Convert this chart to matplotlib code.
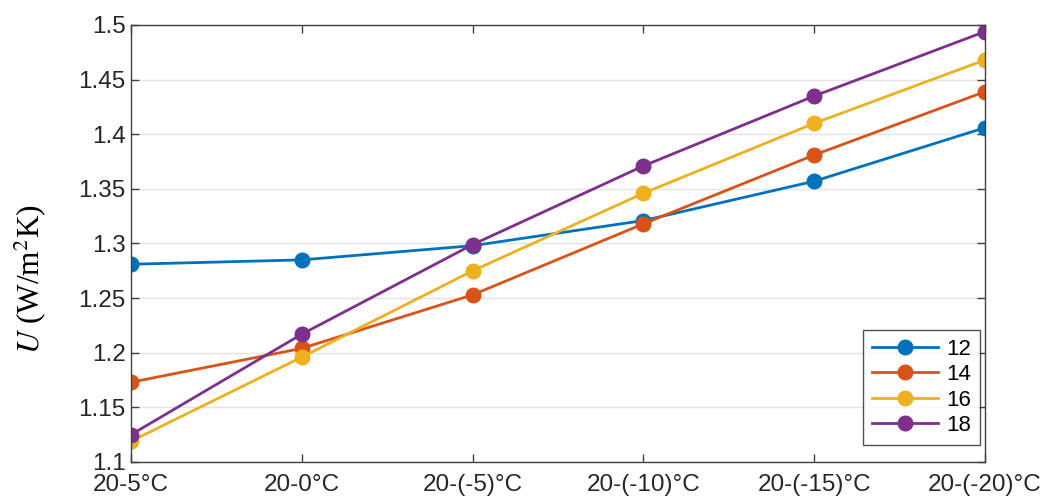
import numpy as np
import matplotlib.pyplot as plt

# temperature differences (inside-outside)
cases = ['20-5°C', '20-0°C', '20-(-5)°C', '20-(-10)°C', '20-(-15)°C', '20-(-20)°C']
labels = ['12', '14', '16', '18']

u12 = [1.281, 1.285, 1.298, 1.321, 1.357, 1.406]
u14 = [1.173, 1.204, 1.253, 1.318, 1.381, 1.439]
u16 = [1.119, 1.196, 1.275, 1.346, 1.410, 1.468]
u18 = [1.125, 1.217, 1.299, 1.371, 1.435, 1.494]

colors = ['#0072BD', '#D95319', '#EDB120', '#7E2F8E']

plt.rcParams['font.family'] = ['Liberation Sans', 'DejaVu Sans']
plt.rcParams['mathtext.fontset'] = 'stix'

fig = plt.figure(figsize=(10.43, 4.98), dpi=100)
ax = fig.add_axes([0.1256, 0.0723, 0.8188, 0.8775])

x = np.arange(len(cases))
for ys, lab, c in zip([u12, u14, u16, u18], labels, colors):
    ax.plot(x, ys, '-o', color=c, lw=2, ms=10.5, label=lab)

ax.set_xlim(0, len(cases) - 1)
ax.set_ylim(1.1, 1.5)
ax.set_xticks(x)
ax.set_xticklabels(cases)
yt = np.arange(1.1, 1.5001, 0.05)
ax.set_yticks(yt)
ax.set_yticklabels(['%g' % round(v, 2) for v in yt])
ax.yaxis.grid(True, color='#e3e3e3', lw=1)
ax.set_axisbelow(True)

ax.tick_params(direction='in', top=True, right=True, length=6, width=1,
               color='#404040', labelsize=17.5, labelcolor='#262626')
ax.tick_params(axis='x', pad=9)
ax.tick_params(axis='y', pad=4)
for s in ax.spines.values():
    s.set_color('#404040')
    s.set_linewidth(1)

ax.set_ylabel(r'$U$ (W/m$^2$K)', family='Liberation Serif', fontsize=22.5)
ax.yaxis.set_label_coords(-0.097, 0.419)

leg = ax.legend(loc='lower right', bbox_to_anchor=(0.994, 0.039), borderaxespad=0,
                fontsize=16, handlelength=3.0, frameon=True, fancybox=False,
                labelspacing=0.2, handletextpad=0.35, borderpad=0.4)
leg.get_frame().set_edgecolor('#262626')
leg.get_frame().set_linewidth(1)

fig.savefig('out.png', dpi=100)
